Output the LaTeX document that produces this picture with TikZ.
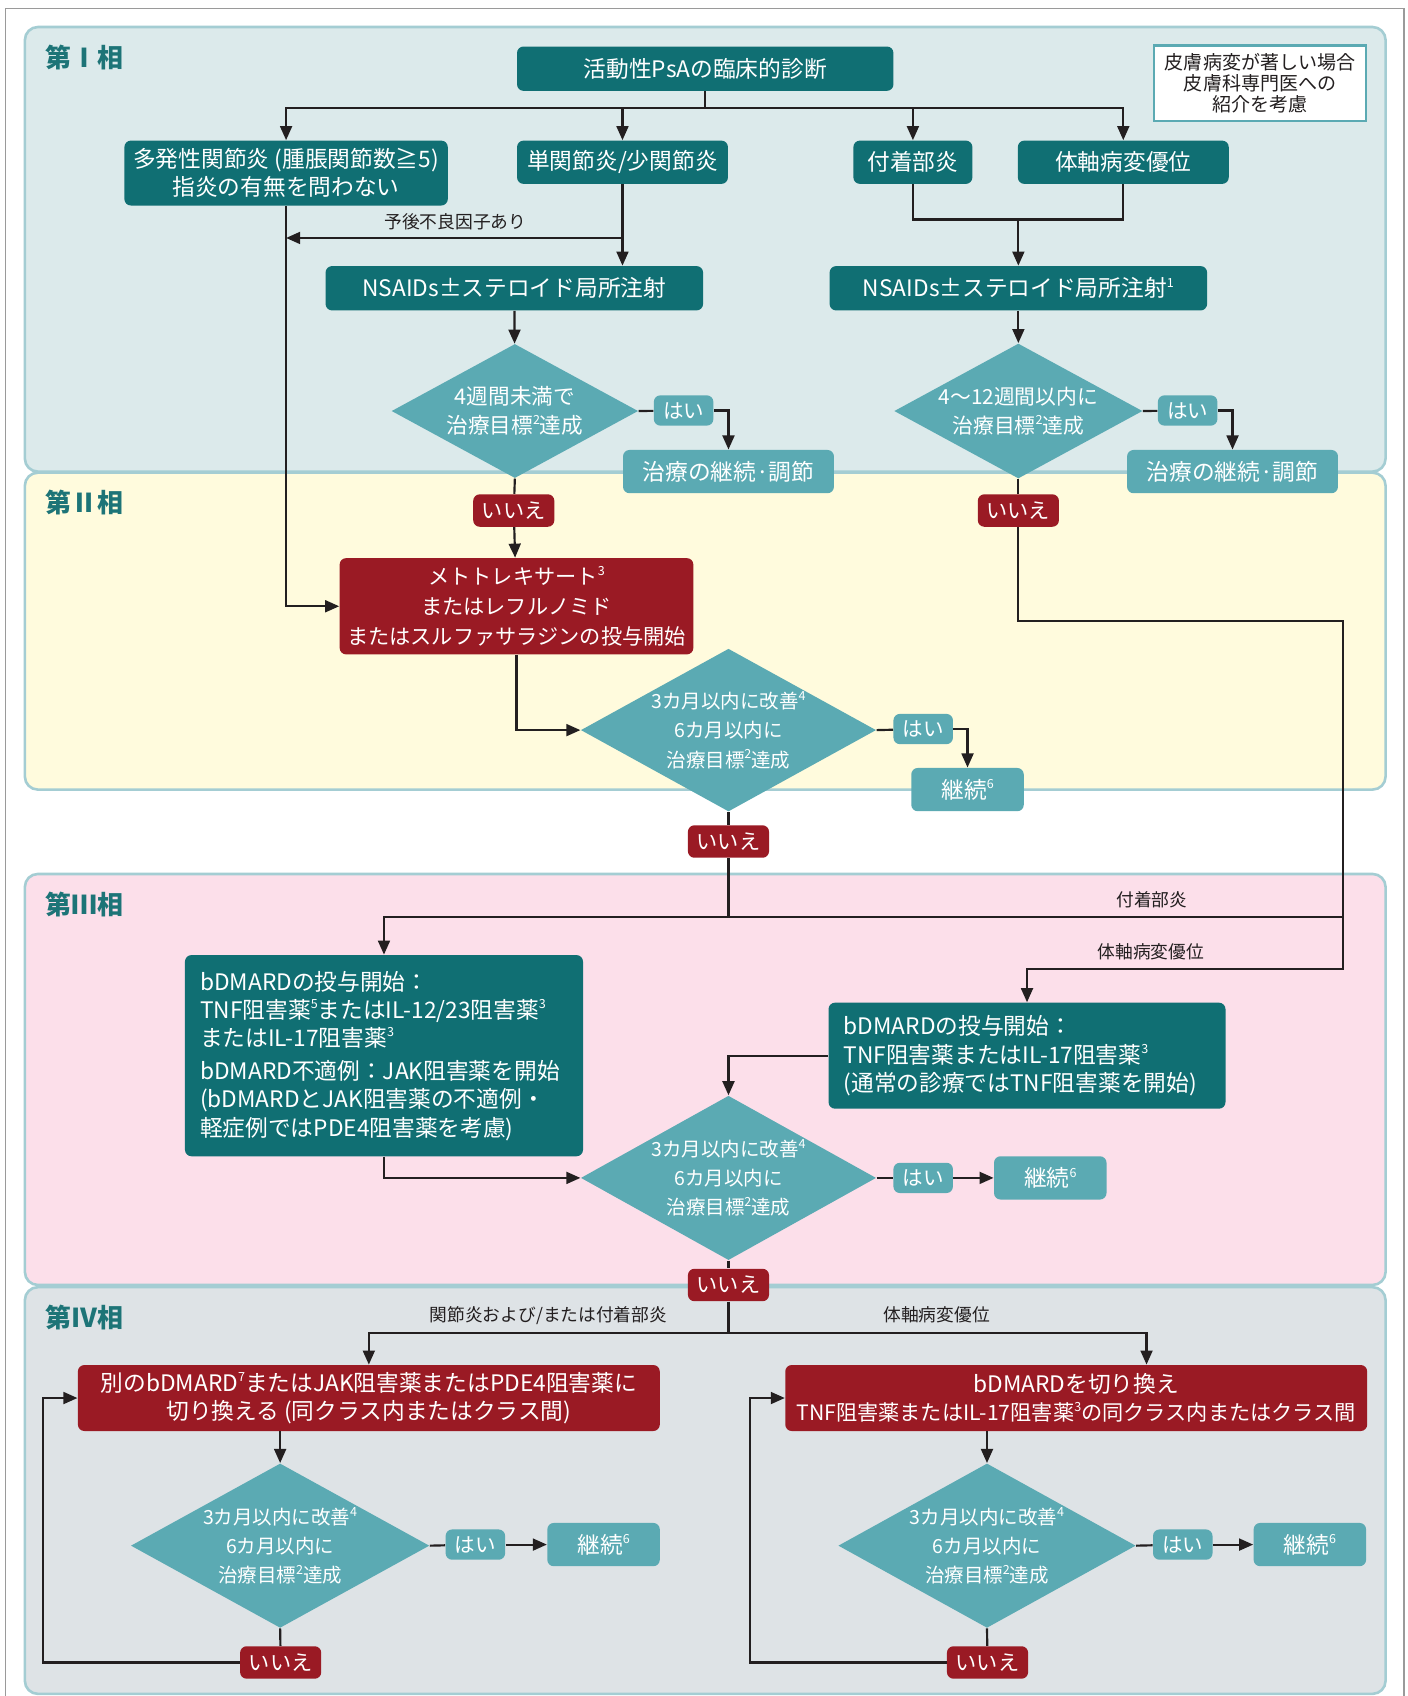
\documentclass[tikz,border=0pt]{standalone}
\usepackage{fontspec}
\setmainfont{Noto Sans CJK JP}
\usetikzlibrary{shapes.geometric, arrows.meta}

\definecolor{darkteal}{HTML}{106F73}
\definecolor{lightteal}{HTML}{5BAAB3}
\definecolor{darkred}{HTML}{9A1A24}
\definecolor{phaseone}{HTML}{DCEAEB}
\definecolor{phasetwo}{HTML}{FFFBDD}
\definecolor{phasethree}{HTML}{FCDFEA}
\definecolor{phasefour}{HTML}{DEE3E6}
\definecolor{panelline}{HTML}{A4CDD3}
\definecolor{phaselabel}{HTML}{1D7477}
\definecolor{linegray}{HTML}{231F20}
\definecolor{framegray}{HTML}{9A9A9A}

\newcommand\supnum[1]{\raisebox{0.42em}{\fontsize{5.8}{6}\selectfont #1}}

\tikzset{
  flowbox/.style={rectangle, rounded corners=3pt, inner sep=0pt, align=center, text=white,
    font=\fontsize{10.5}{13}\selectfont},
  darkbox/.style={flowbox, fill=darkteal},
  lightbox/.style={flowbox, fill=lightteal},
  redbox/.style={flowbox, fill=darkred},
  yesbox/.style={lightbox, minimum width=27.5pt, minimum height=14pt, font=\fontsize{9.5}{11}\selectfont},
  nobox/.style={redbox, minimum width=37.5pt, minimum height=15pt, font=\fontsize{9.8}{11}\selectfont},
  keepbox/.style={lightbox, minimum width=52pt, minimum height=20pt},
  decision/.style={diamond, aspect=1.8, fill=lightteal, inner sep=0pt, align=center, text=white,
    font=\fontsize{9}{13.5}\selectfont},
  panel/.style={draw=panelline, line width=1.2pt, rounded corners=6pt},
  phasename/.style={anchor=west, text=phaselabel, font=\bfseries\fontsize{12}{14}\selectfont},
  edgetag/.style={text=linegray, inner sep=1pt, font=\fontsize{8.2}{10}\selectfont},
  link/.style={draw=linegray, line width=1pt}
}

\begin{document}
\begin{tikzpicture}[x=0.5pt, y=-0.5pt, >={Triangle[length=6.5pt,width=5.5pt]}]
  \useasboundingbox (0,0) rectangle (1301,1568);
  \fill[white] (0,0) rectangle (1301,1568);
  \draw[framegray, line width=0.6pt] (5,1570) -- (5,8) -- (1298,8) -- (1298,1570);

  % phase panels
  \draw[panel, fill=phaseone] (23,25) rectangle (1281,436);
  \draw[panel, fill=phasetwo] (23,437) rectangle (1281,730);
  \draw[panel, fill=phasethree] (23,808) rectangle (1281,1188);
  \draw[panel, fill=phasefour] (23,1190) rectangle (1281,1566);
  \node[phasename] (ph1) at (35,53) {第Ⅰ相};
  \node[phasename] (ph2) at (35,465) {第Ⅱ相};
  \node[phasename] (ph3) at (35,836) {第Ⅲ相};
  \node[phasename] (ph4) at (35,1218) {第Ⅳ相};

  % phase I
  \node[darkbox, minimum width=174pt, minimum height=20.5pt] (diag) at (652,63.5) {活動性PsAの臨床的診断};
  \node[draw=lightteal, line width=1.2pt, fill=white, minimum width=98pt, minimum height=35pt,
    inner sep=0pt, align=center, text=linegray, font=\fontsize{8.8}{9.6}\selectfont] (note) at (1165,77)
    {皮膚病変が著しい場合\\皮膚科専門医への\\紹介を考慮};
  \node[darkbox, minimum width=149.5pt, minimum height=30pt] (poly) at (264.5,160)
    {多発性関節炎 (腫脹関節数≧5)\\指炎の有無を問わない};
  \node[darkbox, minimum width=97.5pt, minimum height=20pt] (mono) at (575.5,150) {単関節炎/少関節炎};
  \node[darkbox, minimum width=55pt, minimum height=20pt] (enth) at (844,150) {付着部炎};
  \node[darkbox, minimum width=97.5pt, minimum height=20pt] (axial) at (1038.5,150) {体軸病変優位};
  \node[darkbox, minimum width=174.5pt, minimum height=20.5pt] (nsaidA) at (475.5,266.5) {NSAIDs±ステロイド局所注射};
  \node[darkbox, minimum width=174.5pt, minimum height=20.5pt] (nsaidB) at (941.5,266.5) {NSAIDs±ステロイド局所注射\supnum{1}};
  \node[decision, aspect=1.84, minimum width=114pt, minimum height=62pt, font=\fontsize{10}{13.5}\selectfont] (decA) at (476,380)
    {4週間未満で\\治療目標\supnum{2}達成};
  \node[decision, aspect=1.84, minimum width=113.5pt, minimum height=62pt, font=\fontsize{9.6}{13.5}\selectfont] (decB) at (941.5,380)
    {4～12週間以内に\\治療目標\supnum{2}達成};
  \node[yesbox] (yesA) at (632,379.5) {はい};
  \node[yesbox] (yesB) at (1098,379.5) {はい};
  \node[lightbox, minimum width=97.5pt, minimum height=20pt] (contA) at (673.5,436) {治療の継続·調節};
  \node[lightbox, minimum width=97.5pt, minimum height=20pt] (contB) at (1139.5,436) {治療の継続·調節};

  % phase II
  \node[nobox] (noA) at (475,472) {いいえ};
  \node[nobox] (noB) at (941.5,472) {いいえ};
  \node[redbox, minimum width=163.5pt, minimum height=44.5pt, font=\fontsize{9.8}{13.75}\selectfont] (mtx) at (477.5,560.5)
    {メトトレキサート\supnum{3}\\またはレフルノミド\\またはスルファサラジンの投与開始};
  \node[decision, minimum width=136.5pt, minimum height=75pt] (decC) at (673.5,675)
    {3カ月以内に改善\supnum{4}\\6カ月以内に\\治療目標\supnum{2}達成};
  \node[yesbox] (yesC) at (853.5,674) {はい};
  \node[keepbox] (keepC) at (894.5,730) {継続\supnum{6}};
  \node[nobox] (noC) at (673.5,778) {いいえ};

  % phase III
  \node[darkbox, align=left, inner xsep=7pt, text width=170pt, minimum height=93pt] (bioA) at (355,976)
    {bDMARDの投与開始：\\TNF阻害薬\supnum{5}またはIL-12/23阻害薬\supnum{3}\\またはIL-17阻害薬\supnum{3}\\[2.5pt]
     bDMARD不適例：JAK阻害薬を開始\\(bDMARDとJAK阻害薬の不適例・\\軽症例ではPDE4阻害薬を考慮)};
  \node[darkbox, align=left, inner xsep=7pt, text width=169.5pt, minimum height=49pt] (bioB) at (949.5,976)
    {bDMARDの投与開始：\\TNF阻害薬またはIL-17阻害薬\supnum{3}\\(通常の診療ではTNF阻害薬を開始)};
  \node[decision, minimum width=136.5pt, minimum height=76pt] (decD) at (673.5,1089)
    {3カ月以内に改善\supnum{4}\\6カ月以内に\\治療目標\supnum{2}達成};
  \node[yesbox] (yesD) at (853.5,1089) {はい};
  \node[keepbox] (keepD) at (971,1089) {継続\supnum{6}};
  \node[nobox] (noD) at (673.5,1188) {いいえ};

  % phase IV
  \node[redbox, minimum width=269pt, minimum height=30.5pt] (switchA) at (341,1292.5)
    {別のbDMARD\supnum{7}またはJAK阻害薬またはPDE4阻害薬に\\切り換える (同クラス内またはクラス間)};
  \node[redbox, minimum width=269pt, minimum height=30.5pt, font=\fontsize{9.8}{13}\selectfont] (switchB) at (995,1292.5)
    {\fontsize{10.5}{13}\selectfont bDMARDを切り換え\\TNF阻害薬またはIL-17阻害薬\supnum{3}の同クラス内またはクラス間};
  \node[decision, minimum width=138pt, minimum height=76pt] (decE) at (259,1429)
    {3カ月以内に改善\supnum{4}\\6カ月以内に\\治療目標\supnum{2}達成};
  \node[decision, minimum width=137.5pt, minimum height=76pt] (decF) at (912.5,1429)
    {3カ月以内に改善\supnum{4}\\6カ月以内に\\治療目標\supnum{2}達成};
  \node[yesbox] (yesE) at (439.5,1428) {はい};
  \node[keepbox] (keepE) at (558,1428) {継続\supnum{6}};
  \node[yesbox] (yesF) at (1093.5,1428) {はい};
  \node[keepbox] (keepF) at (1211,1428) {継続\supnum{6}};
  \node[nobox] (noE) at (259.5,1537) {いいえ};
  \node[nobox] (noF) at (913,1537) {いいえ};

  % connector labels
  \node[edgetag] (lblpoor) at (421,205) {予後不良因子あり};
  \node[edgetag] (lblenth) at (1065,832) {付着部炎};
  \node[edgetag] (lblaxial) at (1064,880) {体軸病変優位};
  \node[edgetag] (lbljoint) at (507,1216) {関節炎および/または付着部炎};
  \node[edgetag] (lblaxialb) at (866,1216) {体軸病変優位};

  % helper points
  \coordinate (split) at (652,100);
  \coordinate (poor) at (575.5,220);
  \coordinate (joinB) at (941.5,203);
  \coordinate (railtop) at (1242,574);
  \coordinate (railenth) at (1242,848);
  \coordinate (railaxial) at (1242,896);
  \coordinate (splitIV) at (673.5,1232);
  \coordinate (axialx) at (1060,0);
  \coordinate (loopA) at (40,1400);
  \coordinate (loopB) at (693,1400);

  % phase I links
  \draw[link] (diag) -- (split);
  \draw[link,->] (split) -| (poly);
  \draw[link,->] (split) -| (mono);
  \draw[link,->] (split) -| (enth);
  \draw[link,->] (split) -| (axial);
  \draw[link,->] (mono) -- (mono |- nsaidA.north);
  \draw[link,->] (poor) -- (poor -| poly.south);
  \draw[link,->] (poly.south) |- (mtx.west);
  \draw[link] (enth.south) |- (joinB) -| (axial.south);
  \draw[link,->] (joinB) -- (nsaidB);
  \draw[link,->] (nsaidA) -- (decA);
  \draw[link,->] (nsaidB) -- (decB);
  \draw[link] (decA.east) -- (yesA);
  \draw[link,->] (yesA.east) -| (contA.north);
  \draw[link] (decB.east) -- (yesB);
  \draw[link,->] (yesB.east) -| (contB.north);

  % phase II links
  \draw[link] (decA.south) -- (noA);
  \draw[link,->] (noA) -- (mtx);
  \draw[link] (decB.south) -- (noB);
  \draw[link,->] (mtx.south) |- (decC.west);
  \draw[link] (decC.east) -- (yesC);
  \draw[link,->] (yesC.east) -| (keepC.north);
  \draw[link] (decC.south) -- (noC);

  % phase III links
  \draw[link,->] (noB.south) |- (railtop) -- (railaxial) -| (bioB.north);
  \draw[link,->] (railenth) -| (bioA.north);
  \draw[link] (noC.south) -- (noC.south |- railenth);
  \draw[link,->] (bioA.south) |- (decD.west);
  \draw[link,->] (bioB.west) -| (decD.north);
  \draw[link] (decD.east) -- (yesD);
  \draw[link,->] (yesD) -- (keepD);
  \draw[link] (decD.south) -- (noD);

  % phase IV links
  \draw[link] (noD.south) -- (splitIV);
  \draw[link,->] (splitIV) -| (switchA.north);
  \draw[link,->] (splitIV) -| (switchB.north -| axialx);
  \draw[link,->] (decE.north |- switchA.south) -- (decE.north);
  \draw[link,->] (decF.north |- switchB.south) -- (decF.north);
  \draw[link] (decE.east) -- (yesE);
  \draw[link,->] (yesE) -- (keepE);
  \draw[link] (decF.east) -- (yesF);
  \draw[link,->] (yesF) -- (keepF);
  \draw[link] (decE.south) -- (noE);
  \draw[link] (decF.south) -- (noF);
  \draw[link,->] (noE.west) -| (loopA) |- (switchA.west);
  \draw[link,->] (noF.west) -| (loopB) |- (switchB.west);
\end{tikzpicture}
\end{document}
